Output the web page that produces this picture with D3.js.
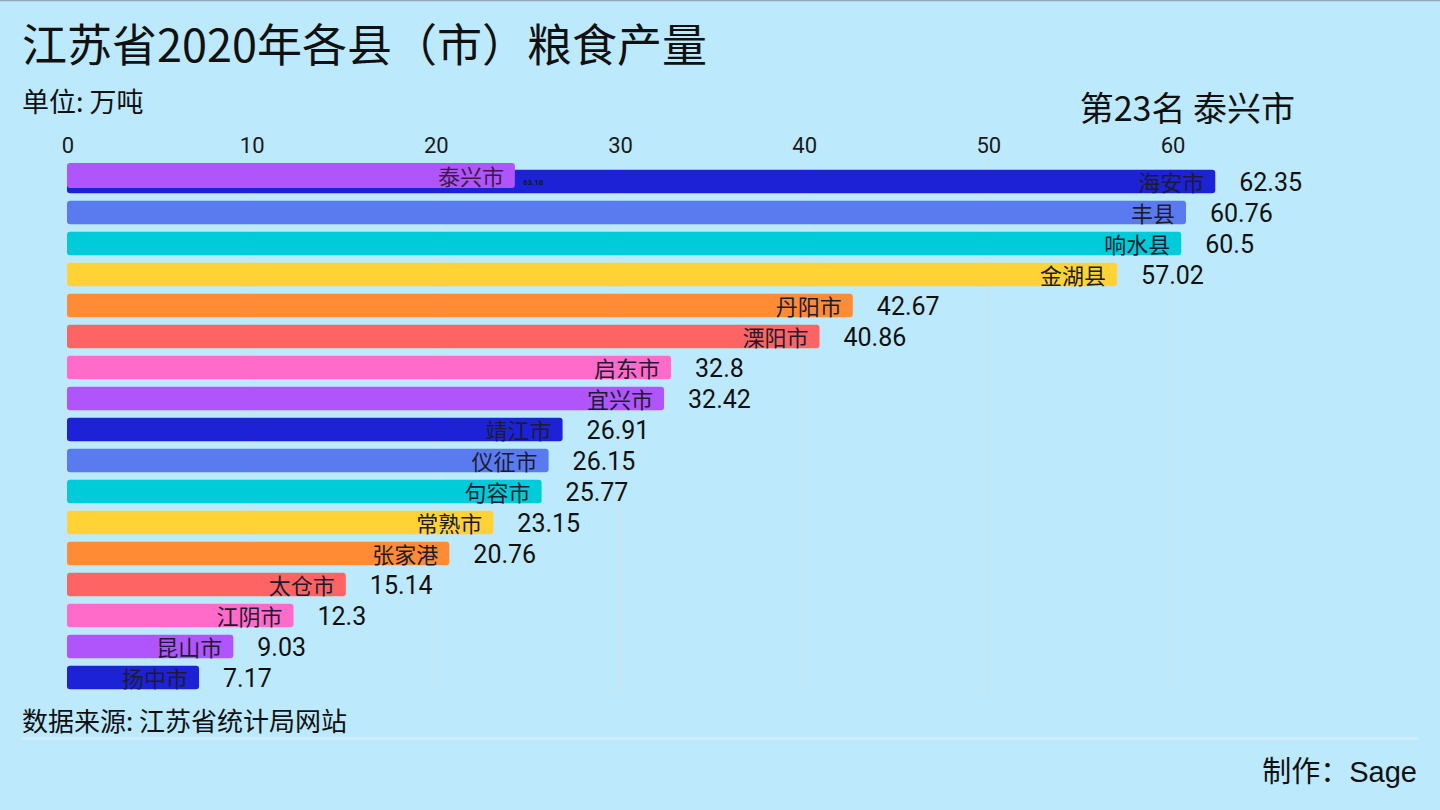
<!DOCTYPE html>
<html>
<head>
<meta charset="utf-8">
<script src="https://cdn.jsdelivr.net/npm/d3@7"></script>
<style>
  html, body { margin: 0; padding: 0; background: #bde9fd; }
  svg { display: block; }
  .cjk { font-family: "Noto Sans CJK SC", "Noto Sans", sans-serif; }
  .num { font-family: Roboto, "DejaVu Sans", sans-serif; }
</style>
</head>
<body>
<svg id="chart" width="1440" height="810"></svg>
<script>
// ---- data ----
const names = ["海安市","丰县","响水县","金湖县","丹阳市","溧阳市","启东市","宜兴市","靖江市","仪征市","句容市","常熟市","张家港","太仓市","江阴市","昆山市","扬中市"];
const values = [62.35, 60.76, 60.5, 57.02, 42.67, 40.86, 32.8, 32.42, 26.91, 26.15, 25.77, 23.15, 20.76, 15.14, 12.3, 9.03, 7.17];
const barColors = ["#1d22d6","#5a7bef","#00cbd9","#ffd336","#ff8c34","#ff6464","#ff6bc8","#b055fb","#1d22d6","#5a7bef","#00cbd9","#ffd336","#ff8c34","#ff6464","#ff6bc8","#b055fb","#1d22d6"];
const tickValues = [0, 10, 20, 30, 40, 50, 60];
// entering bar (mid-animation frame)
const enterName = "泰兴市";
const enterValue = 24.32;
const enterRank = -0.19;
const enterLabel = "63.18";
const enterColor = "#b055fb";
const titleText = "江苏省2020年各县（市）粮食产量";
const unitText = "单位: 万吨";
const rankText = "第23名 泰兴市";
const sourceText = "数据来源: 江苏省统计局网站";
const authorCjk = "制作：";
const authorLatin = "Sage";

// ---- layout ----
const svg = d3.select("#chart");
const x = d3.scaleLinear().domain([0, 60]).range([67, 1172]);
const y = d3.scaleLinear().domain([0, names.length - 1]).range([181.5, 677.5]);
const barH = 23.5;

svg.append("rect").attr("x", 0).attr("y", 0).attr("width", 1440).attr("height", 810).attr("fill", "#bde9fd");
svg.append("line").attr("x1", 0).attr("x2", 1440).attr("y1", 0.5).attr("y2", 0.5).attr("stroke", "#93a9b6").attr("stroke-width", 1.5);

// title
svg.append("text").attr("class", "cjk").attr("x", 22).attr("y", 62)
  .attr("font-size", 45).attr("fill", "#111").text(titleText);
svg.append("text").attr("class", "cjk").attr("x", 22).attr("y", 112)
  .attr("font-size", 27).attr("fill", "#111").text(unitText);
svg.append("text").attr("class", "cjk").attr("x", 1295).attr("y", 121)
  .attr("text-anchor", "end").attr("font-size", 34).attr("fill", "#111").text(rankText);

// grid + ticks
const gridG = svg.append("g");
gridG.selectAll("line").data(tickValues).join("line")
  .attr("x1", d => x(d)).attr("x2", d => x(d))
  .attr("y1", 157).attr("y2", 697)
  .attr("stroke", "#cfe2ec").attr("stroke-width", 1.2);
gridG.selectAll("text").data(tickValues).join("text")
  .attr("class", "num")
  .attr("x", d => x(d) + 1).attr("y", 153)
  .attr("text-anchor", "middle").attr("font-size", 22).attr("fill", "#1a1a1a")
  .text(d => d);

// bars
const rows = names.map((n, i) => ({ name: n, value: values[i], color: barColors[i], rank: i }));
const barsG = svg.append("g");
barsG.selectAll("rect").data(rows).join("rect")
  .attr("x", x(0)).attr("y", d => y(d.rank) - barH / 2)
  .attr("width", d => x(d.value) - x(0)).attr("height", barH)
  .attr("rx", 3).attr("fill", d => d.color);

// entering bar
svg.append("rect")
  .attr("x", x(0)).attr("y", y(enterRank) - 12.5)
  .attr("width", x(enterValue) - x(0)).attr("height", 25)
  .attr("rx", 3).attr("fill", enterColor);

// name labels
const labG = svg.append("g");
labG.selectAll("text.name").data(rows).join("text")
  .attr("class", "cjk name")
  .attr("x", d => x(d.value) - 11).attr("y", d => y(d.rank) + 9.5)
  .attr("text-anchor", "end").attr("font-size", 22).attr("fill", "#1c1c30")
  .text(d => d.name);
labG.selectAll("text.val").data(rows).join("text")
  .attr("class", "num val")
  .attr("x", d => x(d.value) + 24).attr("y", d => y(d.rank) + 9)
  .attr("font-size", 25).attr("fill", "#111")
  .text(d => String(d.value));

svg.append("text").attr("class", "cjk")
  .attr("x", x(enterValue) - 11).attr("y", y(enterRank) + 9.5)
  .attr("text-anchor", "end").attr("font-size", 22).attr("fill", "#3a1a4a").text(enterName);
svg.append("text").attr("class", "num")
  .attr("x", x(enterValue) + 8).attr("y", y(enterRank) + 9)
  .attr("font-size", 8).attr("font-weight", 500).attr("fill", "#111").text(enterLabel);

// footer
svg.append("text").attr("class", "cjk").attr("x", 22).attr("y", 731)
  .attr("font-size", 26).attr("fill", "#111").text(sourceText);
svg.append("line").attr("x1", 22).attr("x2", 1418).attr("y1", 738.5).attr("y2", 738.5)
  .attr("stroke", "#d6eef9").attr("stroke-width", 2);
const au = svg.append("text").attr("x", 1417).attr("y", 782)
  .attr("text-anchor", "end").attr("font-size", 29).attr("fill", "#111");
au.append("tspan").attr("class", "cjk").text(authorCjk);
au.append("tspan").attr("font-family", "'Liberation Sans', Arial, sans-serif").text(authorLatin);
</script>
</body>
</html>
